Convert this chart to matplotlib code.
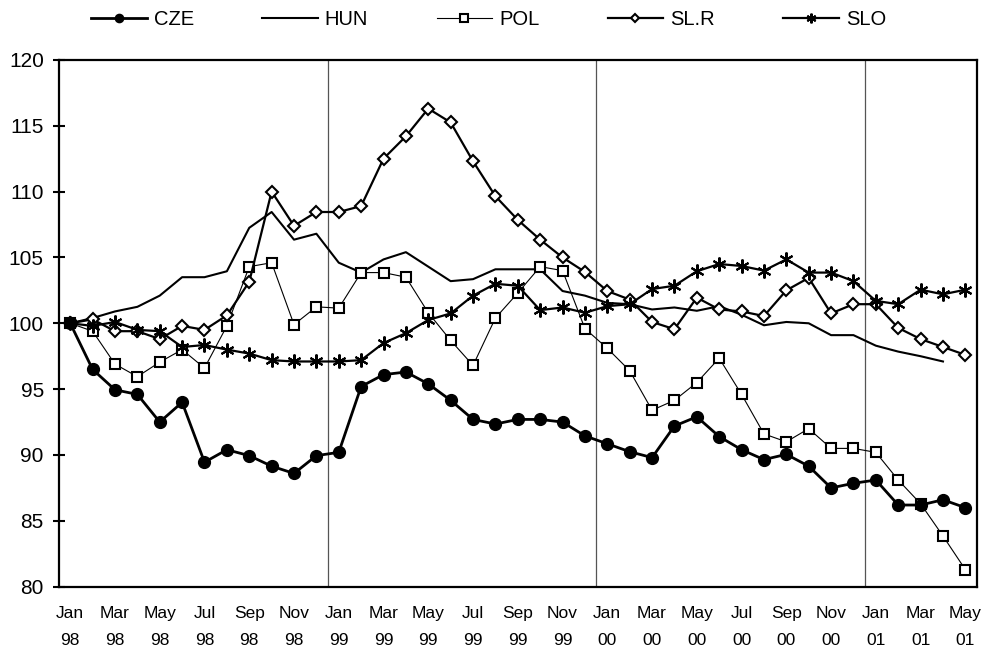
import numpy as np
import matplotlib
matplotlib.use("Agg")
import matplotlib.pyplot as plt

plt.rcParams['font.family'] = ['Liberation Sans', 'DejaVu Sans']

months = ["Jan", "Feb", "Mar", "Apr", "May", "Jun", "Jul", "Aug", "Sep", "Oct", "Nov", "Dec"]
years = ["98", "99", "00", "01"]
dates = [(m, y) for y in years for m in months][:41]

cze = [100, 96.5, 94.95, 94.6, 92.5, 94.0, 89.45, 90.4, 89.95, 89.15, 88.6, 89.95,
       90.2, 95.2, 96.1, 96.3, 95.4, 94.15, 92.7, 92.35, 92.7, 92.7, 92.5, 91.45,
       90.85, 90.25, 89.8, 92.2, 92.9, 91.4, 90.4, 89.65, 90.05, 89.15, 87.5, 87.85,
       88.1, 86.2, 86.2, 86.6, 86.0]
hun = [100, 100.4, 100.9, 101.25, 102.1, 103.5, 103.5, 103.95, 107.25, 108.45, 106.35, 106.8,
       104.6, 103.85, 104.85, 105.4, 104.3, 103.2, 103.35, 104.1, 104.1, 104.1, 102.45, 102.1,
       101.55, 101.45, 101.05, 101.2, 100.95, 101.3, 100.65, 99.85, 100.1, 100.0, 99.1, 99.1,
       98.3, 97.85, 97.5, 97.1, np.nan]
pol = [100, 99.4, 96.9, 95.95, 97.05, 98.0, 96.6, 99.8, 104.3, 104.6, 99.9, 101.25,
       101.15, 103.85, 103.85, 103.5, 100.8, 98.7, 96.8, 100.4, 102.3, 104.3, 104.0, 99.6,
       98.1, 96.4, 93.4, 94.15, 95.5, 97.35, 94.6, 91.6, 91.0, 92.0, 90.5, 90.5,
       90.2, 88.1, 86.3, 83.85, 81.3]
slr = [100, 100.3, 99.4, 99.4, 98.8, 99.8, 99.5, 100.6, 103.15, 110.0, 107.4, 108.45,
       108.45, 108.9, 112.5, 114.2, 116.3, 115.25, 112.3, 109.65, 107.85, 106.35, 105.0, 103.9,
       102.45, 101.8, 100.1, 99.55, 101.95, 101.05, 100.9, 100.55, 102.5, 103.45, 100.75, 101.45,
       101.45, 99.65, 98.8, 98.2, 97.6]
slo = [100, 99.8, 100.1, 99.5, 99.4, 98.2, 98.35, 98.0, 97.7, 97.2, 97.1, 97.1,
       97.1, 97.2, 98.5, 99.25, 100.25, 100.75, 102.1, 103.0, 102.85, 101.0, 101.2, 100.8,
       101.3, 101.45, 102.6, 102.85, 103.95, 104.5, 104.35, 104.0, 104.85, 103.85, 103.85, 103.2,
       101.7, 101.45, 102.55, 102.2, 102.55]

x = np.arange(len(dates))

fig = plt.figure(figsize=(9.89, 6.51), dpi=100)
ax = fig.add_axes([0.0597, 0.0988, 0.9277, 0.8092])

ax.plot(x, cze, color='black', lw=2.0, marker='o', ms=8.5, mfc='black', mec='black', label='CZE', zorder=5)
ax.plot(x, hun, color='black', lw=1.5, label='HUN', zorder=3)
ax.plot(x, pol, color='black', lw=0.8, marker='s', ms=7.5, mfc='white', mec='black', mew=1.5, label='POL', zorder=4)
ax.plot(x, slr, color='black', lw=1.6, marker='D', ms=6.5, mfc='white', mec='black', mew=1.5, label='SL.R', zorder=4)
ax.plot(x, slo, color='black', lw=1.6, marker=(6, 2, 0), ms=10, mec='black', mew=1.5, label='SLO', zorder=4)

for b in [11.5, 23.5, 35.5]:
    ax.axvline(b, color='#555555', lw=0.9, zorder=1)

ax.set_xlim(-0.5, 40.5)
ax.set_ylim(80, 120)
ax.set_yticks(np.arange(80, 121, 5))
ax.tick_params(axis='y', direction='inout', length=9, width=1.5, labelsize=15, pad=6.5)
ax.set_xticks(x[::2])
ax.set_xticklabels([f"{m}\n{y}" for m, y in dates[::2]], fontsize=12.5, linespacing=1.95)
ax.tick_params(axis='x', length=0, pad=14)
for s in ax.spines.values():
    s.set_linewidth(1.6)

fig.legend(loc='center', bbox_to_anchor=(0.494, 0.97), ncol=5, frameon=False,
           fontsize=14.5, handlelength=2.75, handletextpad=0.35, columnspacing=3.4,
           markerscale=0.7, borderpad=0)

fig.savefig('out.png', dpi=100)
